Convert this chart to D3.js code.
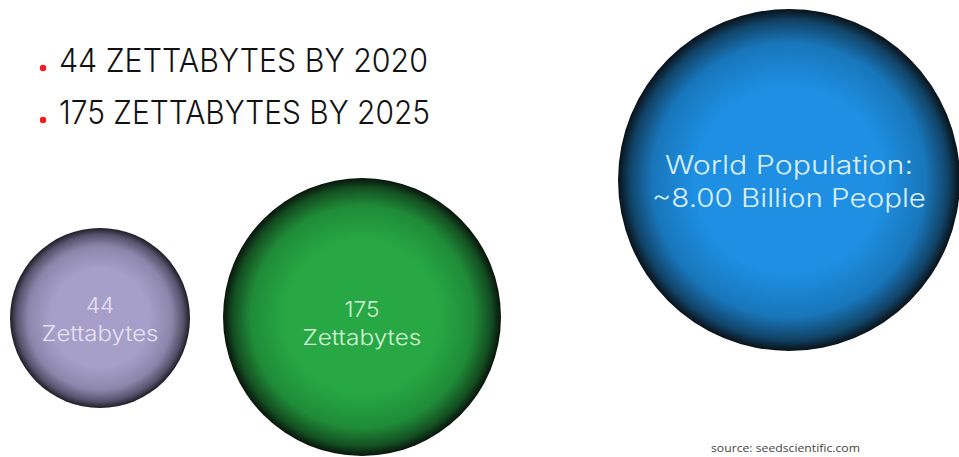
<!DOCTYPE html>
<html>
<head>
<meta charset="utf-8">
<script src="https://cdn.jsdelivr.net/npm/d3@7"></script>
<style>
  html, body { margin: 0; padding: 0; background: #ffffff; }
  svg { display: block; }
</style>
</head>
<body>
<div id="chart"></div>
<script>
// ---- data ----
const headlines = ["44 ZETTABYTES BY 2020", "175 ZETTABYTES BY 2025"];
const bubbleKeys = ["data2020", "data2025", "population"];
const bubbleValues = [44, 175, 8.00];
const bubbleUnits = ["Zettabytes", "Zettabytes", "Billion People"];
const bubbleLines = [["44", "Zettabytes"], ["175", "Zettabytes"], ["World Population:", "~8.00 Billion People"]];
const sourceNote = "source: seedscientific.com";

// ---- layout ----
const W = 959, H = 457;
const svg = d3.select("#chart").append("svg").attr("width", W).attr("height", H);

const cx = d3.scaleOrdinal().domain(bubbleKeys).range([100, 362, 789]);
const cy = d3.scaleOrdinal().domain(bubbleKeys).range([318, 317, 180]);
const rr = d3.scaleOrdinal().domain(bubbleKeys).range([90, 139, 171]);
const centerCol = d3.scaleOrdinal().domain(bubbleKeys).range(["#a69fca", "#27a844", "#1e8fe2"]);
const midCol = d3.scaleOrdinal().domain(bubbleKeys).range(["#8c85ab", "#1f8b38", "#1876ba"]);
const darkCol = d3.scaleOrdinal().domain(bubbleKeys).range(["#55516a", "#134f21", "#114468"]);
const edgeCol = d3.scaleOrdinal().domain(bubbleKeys).range(["#1e1d26", "#08140b", "#091118"]);
const textCol = d3.scaleOrdinal().domain(bubbleKeys).range(["#e6e3f2", "#d4f3d6", "#dcefff"]);
const fontSize = d3.scaleOrdinal().domain(bubbleKeys).range([22, 22, 25.5]);
// baseline offsets (from circle centre) for each line, and each line's width
const lineOffsets = d3.scaleOrdinal().domain(bubbleKeys).range([[-5, 23], [0, 28], [-6, 27]]);
const lineWidths = d3.scaleOrdinal().domain(bubbleKeys).range([[28, 117], [35, 119], [248, 274]]);

const defs = svg.append("defs");
bubbleKeys.forEach(k => {
  const g = defs.append("radialGradient").attr("id", "grad-" + k)
    .attr("cx", "50%").attr("cy", "50%").attr("r", "50%");
  g.append("stop").attr("offset", "0%").attr("stop-color", centerCol(k));
  g.append("stop").attr("offset", "55%").attr("stop-color", centerCol(k));
  g.append("stop").attr("offset", "80%").attr("stop-color", midCol(k));
  g.append("stop").attr("offset", "93%").attr("stop-color", darkCol(k));
  g.append("stop").attr("offset", "100%").attr("stop-color", edgeCol(k));
});

const bubbles = bubbleKeys.map((k, i) => ({key: k, value: bubbleValues[i], unit: bubbleUnits[i], lines: bubbleLines[i]}));

const bg = svg.selectAll("g.bubble").data(bubbles).join("g").attr("class", "bubble");
bg.append("circle")
  .attr("cx", d => cx(d.key)).attr("cy", d => cy(d.key)).attr("r", d => rr(d.key))
  .attr("fill", d => `url(#grad-${d.key})`);

const FONT = "Inter, 'Open Sans', 'DejaVu Sans', sans-serif";

bg.each(function(d) {
  const g = d3.select(this);
  d.lines.forEach((line, j) => {
    g.append("text")
      .attr("x", cx(d.key)).attr("y", cy(d.key) + lineOffsets(d.key)[j])
      .attr("text-anchor", "middle")
      .attr("font-family", FONT).attr("font-weight", 300)
      .attr("font-size", fontSize(d.key))
      .attr("fill", textCol(d.key))
      .attr("textLength", lineWidths(d.key)[j])
      .attr("lengthAdjust", "spacingAndGlyphs")
      .text(line);
  });
});

// headlines
const hg = svg.selectAll("g.head").data(headlines).join("g").attr("class", "head");
hg.append("circle").attr("cx", 43).attr("cy", (d, i) => i === 0 ? 68 : 120).attr("r", 3.2).attr("fill", "#ee1c24");
hg.append("text")
  .attr("x", 59).attr("y", (d, i) => i === 0 ? 72 : 124)
  .attr("font-family", FONT).attr("font-weight", 300)
  .attr("font-size", 33)
  .attr("fill", "#111")
  .attr("textLength", (d, i) => i === 0 ? 369 : 371)
  .attr("lengthAdjust", "spacingAndGlyphs")
  .text(d => d);

svg.append("text")
  .attr("x", 711).attr("y", 452)
  .attr("font-family", "'Open Sans', sans-serif")
  .attr("font-size", 10.5)
  .attr("fill", "#444")
  .attr("textLength", 149)
  .attr("lengthAdjust", "spacingAndGlyphs")
  .text(sourceNote);
</script>
</body>
</html>
